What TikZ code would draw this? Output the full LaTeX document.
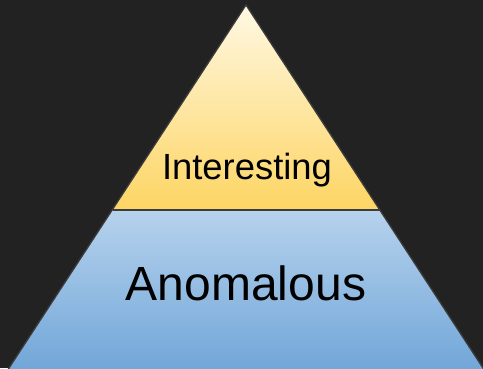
\documentclass[tikz,border=0pt]{standalone}
\usepackage{fontspec}
\setmainfont{Liberation Sans}
\definecolor{bg}{HTML}{222222}
\definecolor{edge}{HTML}{3C3C3C}
\definecolor{ytop}{HTML}{FFF8E3}
\definecolor{ybot}{HTML}{FDD563}
\definecolor{btop}{HTML}{B6D2ED}
\definecolor{bbot}{HTML}{6EA4D7}
\begin{document}
\begin{tikzpicture}[x=1pt,y=1pt,
  lbl/.style={inner sep=0pt, text=black, anchor=base}]
\fill[bg] (0,0) rectangle (483,368);
\useasboundingbox (0,0) rectangle (483,368);
\clip (0,0) rectangle (483,368);
\coordinate (apex) at (246,363);
\coordinate (ml) at (112.5,158);
\coordinate (mr) at (379.5,158);
\coordinate (bl) at (2.5,-10);
\coordinate (br) at (489.5,-10);
\shade[top color=ytop, bottom color=ybot] (apex) -- (ml) -- (mr) -- cycle;
\shade[top color=btop, bottom color=bbot] (ml) -- (mr) -- (br) -- (bl) -- cycle;
\draw[edge, line width=1.3pt, line join=round] (bl) -- (apex) -- (br);
\draw[edge, line width=1.8pt] (ml) -- (mr);
\node[lbl, font=\fontsize{36.4}{40}\selectfont] (interesting) at (247,189) {Interesting};
\node[lbl, font=\fontsize{48}{52}\selectfont] (anomalous) at (246,68) {Anomalous};
\end{tikzpicture}
\end{document}
